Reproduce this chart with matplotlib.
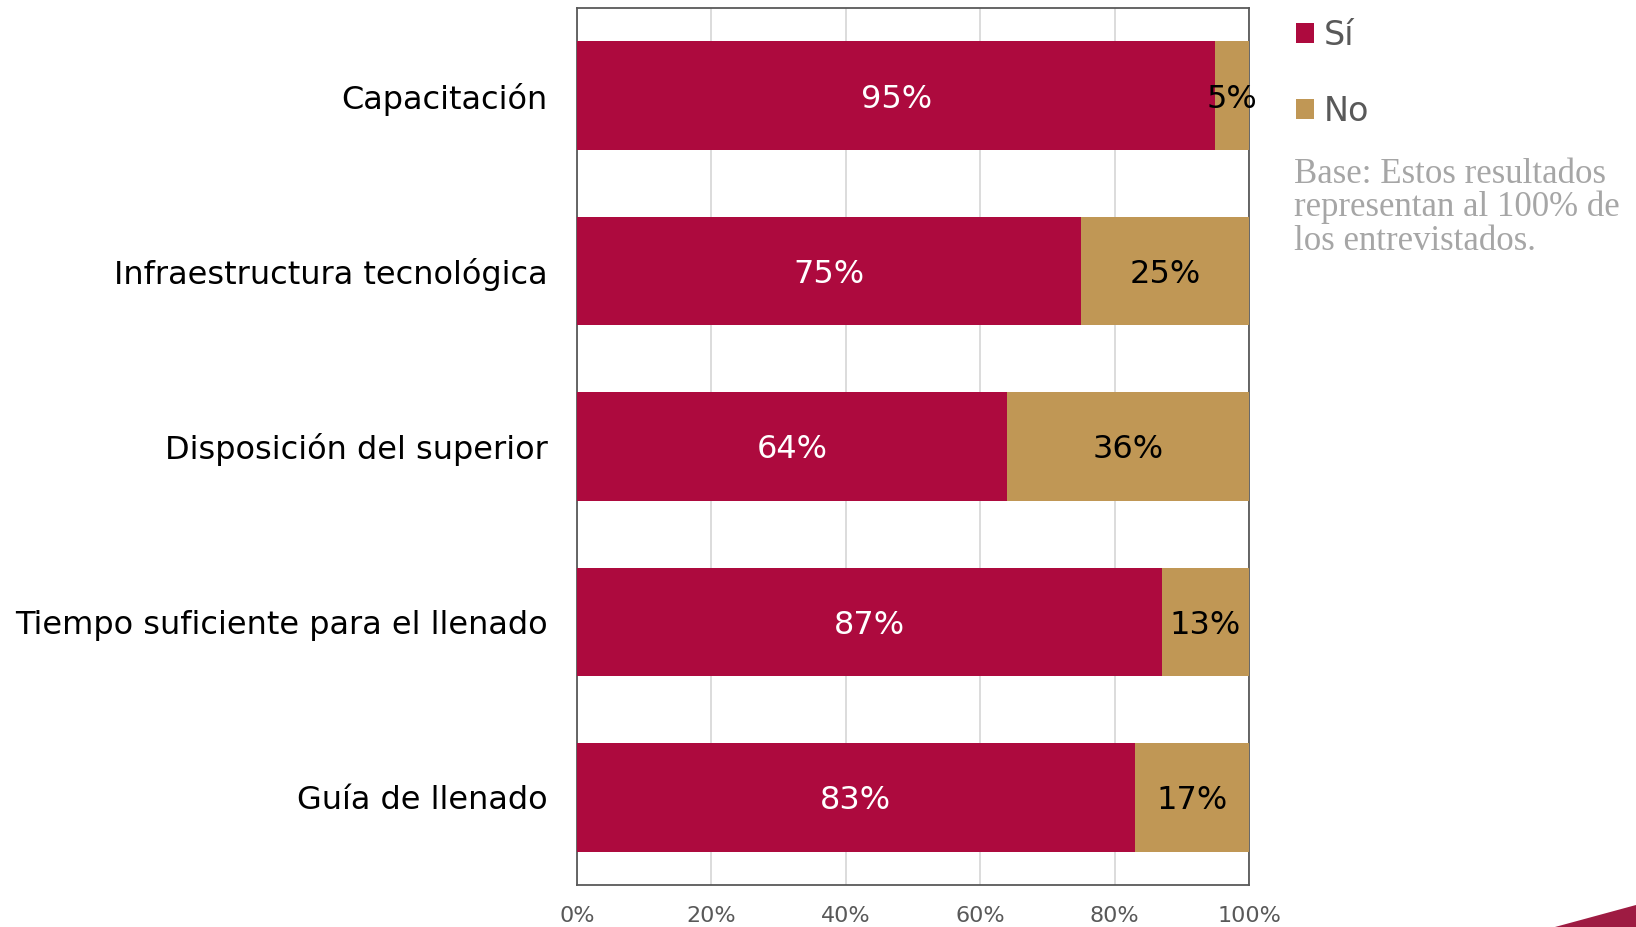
import numpy as np
import matplotlib.pyplot as plt
from matplotlib.patches import Polygon

categories = ['Capacitación', 'Infraestructura tecnológica', 'Disposición del superior',
              'Tiempo suficiente para el llenado', 'Guía de llenado']
si_values = [95, 75, 64, 87, 83]
no_values = [5, 25, 36, 13, 17]
tick_labels = ['0%', '20%', '40%', '60%', '80%', '100%']

RED = '#AD0A3E'
GOLD = '#C09755'

fig = plt.figure(figsize=(16.36, 9.27), dpi=100)
ax = fig.add_axes([577 / 1636, 1 - 885 / 927, 672 / 1636, 877 / 927])

y = np.arange(len(categories))
bars_si = ax.barh(y, si_values, height=0.62, color=RED, label='Sí', zorder=3)
bars_no = ax.barh(y, no_values, left=si_values, height=0.62, color=GOLD, label='No', zorder=3)

for b, v in zip(bars_si, si_values):
    ax.text(b.get_x() + b.get_width() / 2, b.get_y() + b.get_height() / 2, f'{v}%',
            ha='center', va='center_baseline', color='white', fontsize=23, zorder=4)
for b, v in zip(bars_no, no_values):
    ax.text(b.get_x() + b.get_width() / 2, b.get_y() + b.get_height() / 2, f'{v}%',
            ha='center', va='center_baseline', color='black', fontsize=23, zorder=4)

ax.set_xlim(0, 100)
ax.set_ylim(len(categories) - 0.5, -0.5)
ax.set_yticks(y)
ax.set_yticklabels(categories, fontsize=23, color='black')
ax.set_xticks(np.arange(0, 101, 20))
ax.set_xticklabels(tick_labels, fontsize=16, color='#595959')
ax.tick_params(axis='both', length=0)
ax.tick_params(axis='y', pad=21)
ax.tick_params(axis='x', pad=15)
ax.grid(axis='x', color='#D9D9D9', linewidth=1.3, zorder=0)
for s in ax.spines.values():
    s.set_color('#595959')
    s.set_linewidth(1.3)

fig.legend(handles=[bars_si, bars_no], loc='upper left',
           bbox_to_anchor=(1279 / 1636, 1 - 2 / 927), frameon=False,
           fontsize=24, handlelength=0.55, handleheight=0.55, handletextpad=0.3,
           labelspacing=1.3, labelcolor='#595959', borderpad=0)

fig.text(1294 / 1636, 1 - 158 / 927,
         'Base: Estos resultados\nrepresentan al 100% de\nlos entrevistados.',
         ha='left', va='top', fontsize=25, color='#A6A6A6',
         family='Liberation Serif', linespacing=1.0)

# decorative corner shape
fig.patches.append(Polygon([[1555 / 1636, 0], [1, 22 / 927], [1, 0]], closed=True,
                           transform=fig.transFigure, facecolor='#9E1B42',
                           edgecolor='none'))

fig.savefig('out.png', dpi=100)
